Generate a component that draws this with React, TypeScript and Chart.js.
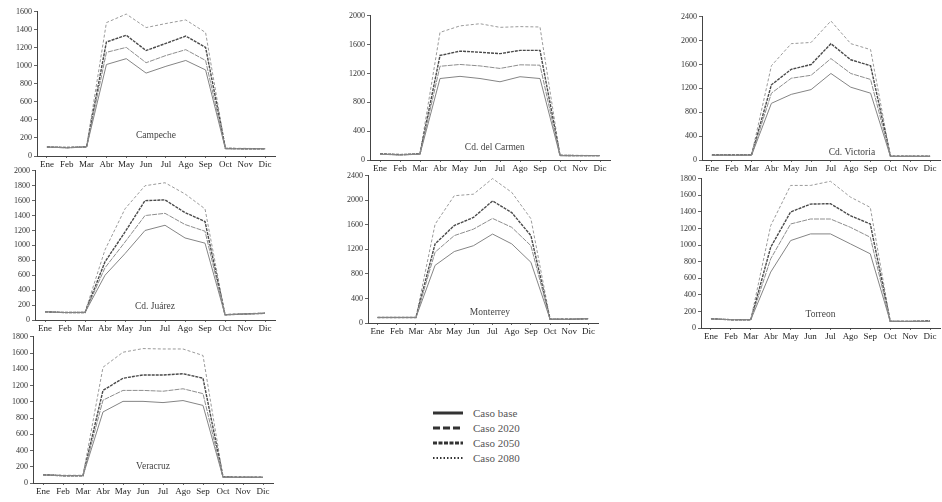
import React, { useEffect, useRef } from "react";
import { Chart, registerables } from "chart.js";

Chart.register(...registerables);

const months = ["Ene", "Feb", "Mar", "Abr", "May", "Jun", "Jul", "Ago", "Sep", "Oct", "Nov", "Dic"];
const seriesNames = ["Caso base", "Caso 2020", "Caso 2050", "Caso 2080"];

const campecheBase = [100, 90, 100, 1015, 1080, 920, 995, 1060, 955, 80, 80, 80];
const campeche2020 = [100, 90, 100, 1150, 1205, 1035, 1115, 1180, 1060, 80, 80, 80];
const campeche2050 = [100, 95, 100, 1265, 1340, 1170, 1250, 1330, 1205, 85, 80, 80];
const campeche2080 = [100, 95, 105, 1480, 1575, 1425, 1470, 1510, 1370, 85, 85, 80];

const carmenBase = [80, 70, 80, 1130, 1160, 1130, 1085, 1155, 1130, 60, 60, 60];
const carmen2020 = [80, 70, 80, 1300, 1325, 1305, 1270, 1320, 1315, 60, 60, 60];
const carmen2050 = [85, 75, 85, 1450, 1510, 1495, 1475, 1520, 1520, 65, 60, 60];
const carmen2080 = [85, 75, 85, 1770, 1860, 1890, 1840, 1850, 1845, 65, 65, 60];

const victoriaBase = [80, 80, 80, 950, 1100, 1180, 1450, 1220, 1120, 60, 60, 60];
const victoria2020 = [80, 80, 80, 1120, 1370, 1420, 1700, 1450, 1350, 60, 60, 60];
const victoria2050 = [85, 85, 85, 1260, 1520, 1600, 1950, 1680, 1580, 65, 65, 65];
const victoria2080 = [85, 85, 85, 1580, 1950, 1970, 2330, 1950, 1850, 65, 65, 65];

const juarezBase = [110, 100, 100, 600, 890, 1200, 1270, 1100, 1030, 70, 80, 90];
const juarez2020 = [110, 100, 100, 700, 1045, 1400, 1430, 1280, 1190, 70, 80, 90];
const juarez2050 = [110, 100, 100, 780, 1180, 1600, 1610, 1440, 1320, 70, 80, 90];
const juarez2080 = [110, 100, 105, 940, 1490, 1800, 1840, 1690, 1490, 75, 85, 95];

const monterreyBase = [90, 90, 90, 940, 1165, 1260, 1450, 1290, 990, 60, 60, 70];
const monterrey2020 = [90, 90, 90, 1155, 1425, 1530, 1705, 1560, 1260, 60, 60, 70];
const monterrey2050 = [90, 90, 90, 1290, 1590, 1720, 1990, 1800, 1425, 60, 60, 70];
const monterrey2080 = [90, 90, 90, 1610, 2075, 2100, 2355, 2130, 1700, 65, 65, 70];

const torreonBase = [110, 100, 100, 675, 1055, 1135, 1135, 1015, 895, 80, 80, 80];
const torreon2020 = [110, 100, 100, 835, 1255, 1315, 1315, 1215, 1095, 80, 80, 80];
const torreon2050 = [110, 100, 100, 975, 1400, 1495, 1500, 1355, 1255, 80, 80, 85];
const torreon2080 = [115, 100, 100, 1235, 1720, 1720, 1770, 1580, 1455, 85, 80, 85];

const veracruzBase = [100, 90, 90, 875, 1005, 1005, 990, 1015, 955, 70, 70, 70];
const veracruz2020 = [100, 90, 90, 1020, 1140, 1140, 1130, 1160, 1100, 70, 70, 70];
const veracruz2050 = [100, 90, 90, 1140, 1290, 1330, 1330, 1345, 1290, 75, 70, 70];
const veracruz2080 = [105, 95, 95, 1425, 1610, 1655, 1650, 1650, 1570, 75, 75, 70];

const FONT = "'Liberation Serif', 'DejaVu Serif', serif";
const AXIS_W = 36;
const PAD_T = 6;
const X_H = 16;

const seriesStyles = [
  { borderColor: "#858585", borderWidth: 1, borderDash: [] as number[] },
  { borderColor: "#8e8e8e", borderWidth: 1, borderDash: [5, 1] },
  { borderColor: "#4a4a4a", borderWidth: 1.4, borderDash: [3, 1] },
  { borderColor: "#9a9a9a", borderWidth: 1, borderDash: [3, 2] },
];

const panels = [
  { name: "Campeche", series: [campecheBase, campeche2020, campeche2050, campeche2080], max: 1600, step: 200, axisX: 37, topY: 11, bottomY: 156, rightX: 275, fx: 0.5, fy: 0.145 },
  { name: "Cd. del Carmen", series: [carmenBase, carmen2020, carmen2050, carmen2080], max: 2000, step: 400, axisX: 370, topY: 15, bottomY: 160, rightX: 610, fx: 0.52, fy: 0.09 },
  { name: "Cd. Victoria", series: [victoriaBase, victoria2020, victoria2050, victoria2080], max: 2400, step: 400, axisX: 702, topY: 16, bottomY: 160, rightX: 940, fx: 0.63, fy: 0.055 },
  { name: "Cd. Juárez", series: [juarezBase, juarez2020, juarez2050, juarez2080], max: 2000, step: 200, axisX: 35, topY: 170, bottomY: 320, rightX: 275, fx: 0.5, fy: 0.09 },
  { name: "Monterrey", series: [monterreyBase, monterrey2020, monterrey2050, monterrey2080], max: 2400, step: 400, axisX: 368, topY: 175, bottomY: 323, rightX: 598, fx: 0.53, fy: 0.07 },
  { name: "Torreon", series: [torreonBase, torreon2020, torreon2050, torreon2080], max: 1800, step: 200, axisX: 701, topY: 178, bottomY: 328, rightX: 940, fx: 0.5, fy: 0.09 },
  { name: "Veracruz", series: [veracruzBase, veracruz2020, veracruz2050, veracruz2080], max: 1800, step: 200, axisX: 33, topY: 336, bottomY: 483, rightX: 273, fx: 0.5, fy: 0.11 },
];

const panelNamePlugin = {
  id: "panelName",
  afterDraw(chart: any, _args: any, opts: any) {
    const { ctx, chartArea } = chart;
    if (!opts || !opts.text) return;
    ctx.save();
    ctx.font = `9.5px ${FONT}`;
    ctx.fillStyle = "#444";
    ctx.textAlign = "center";
    ctx.textBaseline = "middle";
    const x = chartArea.left + opts.fx * (chartArea.right - chartArea.left);
    const y = chartArea.bottom - opts.fy * (chartArea.bottom - chartArea.top);
    ctx.fillText(opts.text, x, y);
    ctx.restore();
  },
};

function Panel({ p }: { p: any }) {
  const ref = useRef<HTMLCanvasElement | null>(null);
  const left = p.axisX - AXIS_W;
  const top = p.topY - PAD_T;
  const width = p.rightX - left + 2;
  const height = p.bottomY - p.topY + PAD_T + X_H;

  useEffect(() => {
    if (!ref.current) return;
    const chart = new Chart(ref.current, {
      type: "line",
      data: {
        labels: months,
        datasets: seriesNames.map((n, i) => ({
          label: n,
          data: p.series[i],
          borderColor: seriesStyles[i].borderColor,
          borderWidth: seriesStyles[i].borderWidth,
          borderDash: seriesStyles[i].borderDash,
          pointRadius: 0,
          tension: 0,
          fill: false,
        })),
      },
      options: {
        responsive: false,
        animation: false,
        devicePixelRatio: 1,
        layout: { padding: { top: PAD_T, right: 2, left: 0, bottom: 0 } },
        plugins: {
          legend: { display: false },
          tooltip: { enabled: false },
          panelName: { text: p.name, fx: p.fx, fy: p.fy },
        } as any,
        scales: {
          x: {
            offset: true,
            grid: { display: true, drawOnChartArea: false, tickLength: 2, color: "#666" },
            border: { display: true, color: "#444", width: 1 },
            ticks: { autoSkip: false, maxRotation: 0, padding: 1, color: "#222", font: { family: FONT, size: 9 } },
            afterFit: (s: any) => { s.height = X_H; },
          },
          y: {
            min: 0,
            max: p.max,
            grid: { display: true, drawOnChartArea: false, tickLength: 3, color: "#666" },
            border: { display: true, color: "#444", width: 1 },
            ticks: {
              stepSize: p.step,
              padding: 2,
              color: "#333",
              font: { family: FONT, size: 8 },
              callback: (v: any) => String(v),
            },
            afterFit: (s: any) => { s.width = AXIS_W; },
          },
        },
      } as any,
      plugins: [panelNamePlugin],
    });
    return () => chart.destroy();
  }, []);

  return (
    <canvas
      ref={ref}
      width={width}
      height={height}
      style={{ position: "absolute", left, top, width, height }}
    />
  );
}

const legendDash = ["", "7 3", "4 1.5", "1.5 2"];
const legendWidth = [3, 3, 3, 2];

function Legend() {
  return (
    <div style={{ position: "absolute", left: 433, top: 405 }}>
      {seriesNames.map((n, i) => (
        <div key={n} style={{ display: "flex", alignItems: "center", height: 15 }}>
          <svg width={30} height={6} style={{ marginRight: 10 }}>
            <line x1={0} y1={3} x2={30} y2={3} stroke="#333" strokeWidth={legendWidth[i]} strokeDasharray={legendDash[i] || undefined} />
          </svg>
          <span style={{ font: `11px ${FONT}`, color: "#555" }}>{n}</span>
        </div>
      ))}
    </div>
  );
}

export default function App() {
  return (
    <div style={{ position: "absolute", left: 0, top: 0, width: 942, height: 502, background: "#fff" }}>
      {panels.map((p) => (
        <Panel key={p.name} p={p} />
      ))}
      <Legend />
    </div>
  );
}
